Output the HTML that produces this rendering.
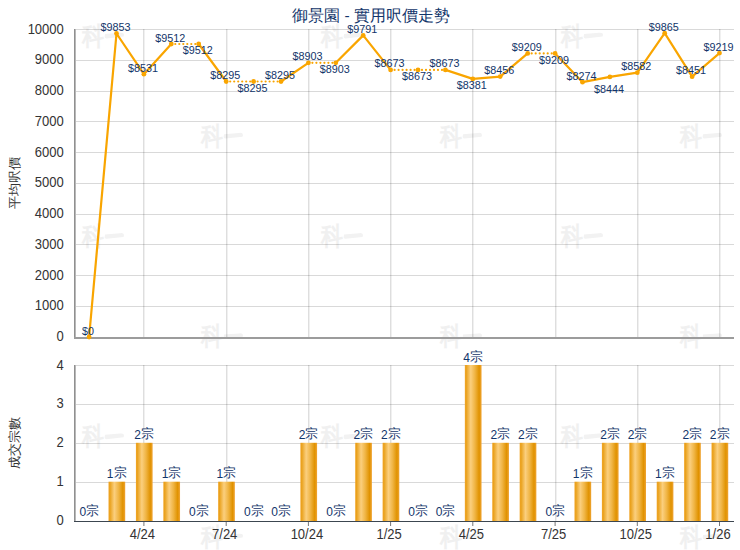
<!DOCTYPE html><html><head><meta charset="utf-8"><style>html,body{margin:0;padding:0;background:#fff;width:740px;height:550px;overflow:hidden}svg{display:block}text{font-family:"Liberation Sans",sans-serif}</style></head><body>
<svg width="740" height="550" viewBox="0 0 740 550">
<defs><linearGradient id="bg" x1="0" x2="1" y1="0" y2="0"><stop offset="0" stop-color="#f2a62a"/><stop offset="0.08" stop-color="#e9a11c"/><stop offset="0.35" stop-color="#fbcf7e"/><stop offset="0.6" stop-color="#f0b545"/><stop offset="0.86" stop-color="#e09200"/><stop offset="1" stop-color="#f0a535"/></linearGradient></defs>
<text x="371" y="21" text-anchor="middle" font-size="15.5" fill="#12356a">御景園 - 實用呎價走勢</text>
<g transform="translate(80,23.0)"><text transform="translate(2,21.6) scale(0.93,1.1)" font-size="23.5" font-weight="900" fill="#f0f0f0">科</text><path d="M25 11 L40 9.8 Q42 9.3 43.5 10.3 Q44.5 12 43.5 13.5 L26.5 15.4 Q25 15.3 24.6 14 Z" fill="#f2f2f2"/></g><g transform="translate(319,23.0)"><text transform="translate(2,21.6) scale(0.93,1.1)" font-size="23.5" font-weight="900" fill="#f0f0f0">科</text><path d="M25 11 L40 9.8 Q42 9.3 43.5 10.3 Q44.5 12 43.5 13.5 L26.5 15.4 Q25 15.3 24.6 14 Z" fill="#f2f2f2"/></g><g transform="translate(559,23.0)"><text transform="translate(2,21.6) scale(0.93,1.1)" font-size="23.5" font-weight="900" fill="#f0f0f0">科</text><path d="M25 11 L40 9.8 Q42 9.3 43.5 10.3 Q44.5 12 43.5 13.5 L26.5 15.4 Q25 15.3 24.6 14 Z" fill="#f2f2f2"/></g><g transform="translate(199,123.2)"><text transform="translate(2,21.6) scale(0.93,1.1)" font-size="23.5" font-weight="900" fill="#f0f0f0">科</text><path d="M25 11 L40 9.8 Q42 9.3 43.5 10.3 Q44.5 12 43.5 13.5 L26.5 15.4 Q25 15.3 24.6 14 Z" fill="#f2f2f2"/></g><g transform="translate(438,123.2)"><text transform="translate(2,21.6) scale(0.93,1.1)" font-size="23.5" font-weight="900" fill="#f0f0f0">科</text><path d="M25 11 L40 9.8 Q42 9.3 43.5 10.3 Q44.5 12 43.5 13.5 L26.5 15.4 Q25 15.3 24.6 14 Z" fill="#f2f2f2"/></g><g transform="translate(678,123.2)"><text transform="translate(2,21.6) scale(0.93,1.1)" font-size="23.5" font-weight="900" fill="#f0f0f0">科</text><path d="M25 11 L40 9.8 Q42 9.3 43.5 10.3 Q44.5 12 43.5 13.5 L26.5 15.4 Q25 15.3 24.6 14 Z" fill="#f2f2f2"/></g><g transform="translate(80,223.4)"><text transform="translate(2,21.6) scale(0.93,1.1)" font-size="23.5" font-weight="900" fill="#f0f0f0">科</text><path d="M25 11 L40 9.8 Q42 9.3 43.5 10.3 Q44.5 12 43.5 13.5 L26.5 15.4 Q25 15.3 24.6 14 Z" fill="#f2f2f2"/></g><g transform="translate(319,223.4)"><text transform="translate(2,21.6) scale(0.93,1.1)" font-size="23.5" font-weight="900" fill="#f0f0f0">科</text><path d="M25 11 L40 9.8 Q42 9.3 43.5 10.3 Q44.5 12 43.5 13.5 L26.5 15.4 Q25 15.3 24.6 14 Z" fill="#f2f2f2"/></g><g transform="translate(559,223.4)"><text transform="translate(2,21.6) scale(0.93,1.1)" font-size="23.5" font-weight="900" fill="#f0f0f0">科</text><path d="M25 11 L40 9.8 Q42 9.3 43.5 10.3 Q44.5 12 43.5 13.5 L26.5 15.4 Q25 15.3 24.6 14 Z" fill="#f2f2f2"/></g><g transform="translate(199,323.6)"><text transform="translate(2,21.6) scale(0.93,1.1)" font-size="23.5" font-weight="900" fill="#f0f0f0">科</text><path d="M25 11 L40 9.8 Q42 9.3 43.5 10.3 Q44.5 12 43.5 13.5 L26.5 15.4 Q25 15.3 24.6 14 Z" fill="#f2f2f2"/></g><g transform="translate(438,323.6)"><text transform="translate(2,21.6) scale(0.93,1.1)" font-size="23.5" font-weight="900" fill="#f0f0f0">科</text><path d="M25 11 L40 9.8 Q42 9.3 43.5 10.3 Q44.5 12 43.5 13.5 L26.5 15.4 Q25 15.3 24.6 14 Z" fill="#f2f2f2"/></g><g transform="translate(678,323.6)"><text transform="translate(2,21.6) scale(0.93,1.1)" font-size="23.5" font-weight="900" fill="#f0f0f0">科</text><path d="M25 11 L40 9.8 Q42 9.3 43.5 10.3 Q44.5 12 43.5 13.5 L26.5 15.4 Q25 15.3 24.6 14 Z" fill="#f2f2f2"/></g><g transform="translate(80,423.8)"><text transform="translate(2,21.6) scale(0.93,1.1)" font-size="23.5" font-weight="900" fill="#f0f0f0">科</text><path d="M25 11 L40 9.8 Q42 9.3 43.5 10.3 Q44.5 12 43.5 13.5 L26.5 15.4 Q25 15.3 24.6 14 Z" fill="#f2f2f2"/></g><g transform="translate(319,423.8)"><text transform="translate(2,21.6) scale(0.93,1.1)" font-size="23.5" font-weight="900" fill="#f0f0f0">科</text><path d="M25 11 L40 9.8 Q42 9.3 43.5 10.3 Q44.5 12 43.5 13.5 L26.5 15.4 Q25 15.3 24.6 14 Z" fill="#f2f2f2"/></g><g transform="translate(559,423.8)"><text transform="translate(2,21.6) scale(0.93,1.1)" font-size="23.5" font-weight="900" fill="#f0f0f0">科</text><path d="M25 11 L40 9.8 Q42 9.3 43.5 10.3 Q44.5 12 43.5 13.5 L26.5 15.4 Q25 15.3 24.6 14 Z" fill="#f2f2f2"/></g><g transform="translate(199,524.0)"><text transform="translate(2,21.6) scale(0.93,1.1)" font-size="23.5" font-weight="900" fill="#f0f0f0">科</text><path d="M25 11 L40 9.8 Q42 9.3 43.5 10.3 Q44.5 12 43.5 13.5 L26.5 15.4 Q25 15.3 24.6 14 Z" fill="#f2f2f2"/></g><g transform="translate(438,524.0)"><text transform="translate(2,21.6) scale(0.93,1.1)" font-size="23.5" font-weight="900" fill="#f0f0f0">科</text><path d="M25 11 L40 9.8 Q42 9.3 43.5 10.3 Q44.5 12 43.5 13.5 L26.5 15.4 Q25 15.3 24.6 14 Z" fill="#f2f2f2"/></g><g transform="translate(678,524.0)"><text transform="translate(2,21.6) scale(0.93,1.1)" font-size="23.5" font-weight="900" fill="#f0f0f0">科</text><path d="M25 11 L40 9.8 Q42 9.3 43.5 10.3 Q44.5 12 43.5 13.5 L26.5 15.4 Q25 15.3 24.6 14 Z" fill="#f2f2f2"/></g>
<rect x="76" y="29" width="658.0" height="1" fill="#000" fill-opacity="0.15"/><rect x="76" y="60" width="658.0" height="1" fill="#000" fill-opacity="0.15"/><rect x="76" y="91" width="658.0" height="1" fill="#000" fill-opacity="0.15"/><rect x="76" y="121" width="658.0" height="1" fill="#000" fill-opacity="0.15"/><rect x="76" y="152" width="658.0" height="1" fill="#000" fill-opacity="0.15"/><rect x="76" y="183" width="658.0" height="1" fill="#000" fill-opacity="0.15"/><rect x="76" y="214" width="658.0" height="1" fill="#000" fill-opacity="0.15"/><rect x="76" y="244" width="658.0" height="1" fill="#000" fill-opacity="0.15"/><rect x="76" y="275" width="658.0" height="1" fill="#000" fill-opacity="0.15"/><rect x="76" y="306" width="658.0" height="1" fill="#000" fill-opacity="0.15"/><rect x="76" y="365" width="658.0" height="1" fill="#000" fill-opacity="0.15"/><rect x="76" y="404" width="658.0" height="1" fill="#000" fill-opacity="0.15"/><rect x="76" y="443" width="658.0" height="1" fill="#000" fill-opacity="0.15"/><rect x="76" y="482" width="658.0" height="1" fill="#000" fill-opacity="0.15"/><rect x="143" y="29" width="1" height="308" fill="#000" fill-opacity="0.13"/><rect x="144" y="29" width="1" height="308" fill="#000" fill-opacity="0.06"/><rect x="143" y="365" width="1" height="156" fill="#000" fill-opacity="0.13"/><rect x="144" y="365" width="1" height="156" fill="#000" fill-opacity="0.06"/><rect x="226" y="29" width="1" height="308" fill="#000" fill-opacity="0.13"/><rect x="227" y="29" width="1" height="308" fill="#000" fill-opacity="0.06"/><rect x="226" y="365" width="1" height="156" fill="#000" fill-opacity="0.13"/><rect x="227" y="365" width="1" height="156" fill="#000" fill-opacity="0.06"/><rect x="308" y="29" width="1" height="308" fill="#000" fill-opacity="0.13"/><rect x="309" y="29" width="1" height="308" fill="#000" fill-opacity="0.06"/><rect x="308" y="365" width="1" height="156" fill="#000" fill-opacity="0.13"/><rect x="309" y="365" width="1" height="156" fill="#000" fill-opacity="0.06"/><rect x="390" y="29" width="1" height="308" fill="#000" fill-opacity="0.13"/><rect x="391" y="29" width="1" height="308" fill="#000" fill-opacity="0.06"/><rect x="390" y="365" width="1" height="156" fill="#000" fill-opacity="0.13"/><rect x="391" y="365" width="1" height="156" fill="#000" fill-opacity="0.06"/><rect x="472" y="29" width="1" height="308" fill="#000" fill-opacity="0.13"/><rect x="473" y="29" width="1" height="308" fill="#000" fill-opacity="0.06"/><rect x="472" y="365" width="1" height="156" fill="#000" fill-opacity="0.13"/><rect x="473" y="365" width="1" height="156" fill="#000" fill-opacity="0.06"/><rect x="555" y="29" width="1" height="308" fill="#000" fill-opacity="0.13"/><rect x="556" y="29" width="1" height="308" fill="#000" fill-opacity="0.06"/><rect x="555" y="365" width="1" height="156" fill="#000" fill-opacity="0.13"/><rect x="556" y="365" width="1" height="156" fill="#000" fill-opacity="0.06"/><rect x="637" y="29" width="1" height="308" fill="#000" fill-opacity="0.13"/><rect x="638" y="29" width="1" height="308" fill="#000" fill-opacity="0.06"/><rect x="637" y="365" width="1" height="156" fill="#000" fill-opacity="0.13"/><rect x="638" y="365" width="1" height="156" fill="#000" fill-opacity="0.06"/><rect x="719" y="29" width="1" height="308" fill="#000" fill-opacity="0.13"/><rect x="720" y="29" width="1" height="308" fill="#000" fill-opacity="0.06"/><rect x="719" y="365" width="1" height="156" fill="#000" fill-opacity="0.13"/><rect x="720" y="365" width="1" height="156" fill="#000" fill-opacity="0.06"/>
<rect x="74" y="29.0" width="1" height="310.0" fill="#909090"/><rect x="75" y="29.0" width="1" height="308.0" fill="#b8b8b8"/><rect x="74" y="337.0" width="660.0" height="2" fill="#9c9c9c"/>
<rect x="74" y="365.0" width="1" height="157.0" fill="#909090"/><rect x="75" y="365.0" width="1" height="156.0" fill="#b8b8b8"/>
<rect x="74" y="521" width="660.0" height="1" fill="#3c4650"/>
<path d="M143.9 522V526 M226.2 522V526 M308.4 522V526 M390.6 522V526 M472.8 522V526 M555.1 522V526 M637.3 522V526 M719.5 522V526" stroke="#777" stroke-width="1" fill="none"/>
<text transform="translate(63.8,34.0) scale(0.93,1)" text-anchor="end" font-size="14" fill="#333">10000</text>
<text transform="translate(63.8,64.2) scale(0.93,1)" text-anchor="end" font-size="14" fill="#333">9000</text>
<text transform="translate(63.8,95.0) scale(0.93,1)" text-anchor="end" font-size="14" fill="#333">8000</text>
<text transform="translate(63.8,125.7) scale(0.93,1)" text-anchor="end" font-size="14" fill="#333">7000</text>
<text transform="translate(63.8,156.5) scale(0.93,1)" text-anchor="end" font-size="14" fill="#333">6000</text>
<text transform="translate(63.8,187.3) scale(0.93,1)" text-anchor="end" font-size="14" fill="#333">5000</text>
<text transform="translate(63.8,218.1) scale(0.93,1)" text-anchor="end" font-size="14" fill="#333">4000</text>
<text transform="translate(63.8,248.9) scale(0.93,1)" text-anchor="end" font-size="14" fill="#333">3000</text>
<text transform="translate(63.8,279.6) scale(0.93,1)" text-anchor="end" font-size="14" fill="#333">2000</text>
<text transform="translate(63.8,310.4) scale(0.93,1)" text-anchor="end" font-size="14" fill="#333">1000</text>
<text transform="translate(63.8,341.2) scale(0.93,1)" text-anchor="end" font-size="14" fill="#333">0</text>
<text transform="translate(63.8,369.5) scale(0.93,1)" text-anchor="end" font-size="14" fill="#333">4</text>
<text transform="translate(63.8,408.4) scale(0.93,1)" text-anchor="end" font-size="14" fill="#333">3</text>
<text transform="translate(63.8,447.3) scale(0.93,1)" text-anchor="end" font-size="14" fill="#333">2</text>
<text transform="translate(63.8,486.2) scale(0.93,1)" text-anchor="end" font-size="14" fill="#333">1</text>
<text transform="translate(63.8,525.1) scale(0.93,1)" text-anchor="end" font-size="14" fill="#333">0</text>
<text transform="translate(19,183) rotate(-90)" text-anchor="middle" font-size="12.5" fill="#333">平均呎價</text>
<text transform="translate(19,443) rotate(-90)" text-anchor="middle" font-size="12.5" fill="#333">成交宗數</text>
<text transform="translate(142.4,538.6) scale(0.93,1)" text-anchor="middle" font-size="14" fill="#333">4/24</text>
<text transform="translate(224.7,538.6) scale(0.93,1)" text-anchor="middle" font-size="14" fill="#333">7/24</text>
<text transform="translate(306.9,538.6) scale(0.93,1)" text-anchor="middle" font-size="14" fill="#333">10/24</text>
<text transform="translate(389.1,538.6) scale(0.93,1)" text-anchor="middle" font-size="14" fill="#333">1/25</text>
<text transform="translate(471.3,538.6) scale(0.93,1)" text-anchor="middle" font-size="14" fill="#333">4/25</text>
<text transform="translate(553.6,538.6) scale(0.93,1)" text-anchor="middle" font-size="14" fill="#333">7/25</text>
<text transform="translate(635.8,538.6) scale(0.93,1)" text-anchor="middle" font-size="14" fill="#333">10/25</text>
<text transform="translate(718.0,538.6) scale(0.93,1)" text-anchor="middle" font-size="14" fill="#333">1/26</text>
<rect x="108.51" y="481.7" width="16.7" height="39.3" fill="url(#bg)"/>
<rect x="135.92" y="442.8" width="16.7" height="78.2" fill="url(#bg)"/>
<rect x="163.33" y="481.7" width="16.7" height="39.3" fill="url(#bg)"/>
<rect x="218.15" y="481.7" width="16.7" height="39.3" fill="url(#bg)"/>
<rect x="300.38" y="442.8" width="16.7" height="78.2" fill="url(#bg)"/>
<rect x="355.20" y="442.8" width="16.7" height="78.2" fill="url(#bg)"/>
<rect x="382.61" y="442.8" width="16.7" height="78.2" fill="url(#bg)"/>
<rect x="464.84" y="365.0" width="16.7" height="156.0" fill="url(#bg)"/>
<rect x="492.25" y="442.8" width="16.7" height="78.2" fill="url(#bg)"/>
<rect x="519.66" y="442.8" width="16.7" height="78.2" fill="url(#bg)"/>
<rect x="574.48" y="481.7" width="16.7" height="39.3" fill="url(#bg)"/>
<rect x="601.89" y="442.8" width="16.7" height="78.2" fill="url(#bg)"/>
<rect x="629.30" y="442.8" width="16.7" height="78.2" fill="url(#bg)"/>
<rect x="656.71" y="481.7" width="16.7" height="39.3" fill="url(#bg)"/>
<rect x="684.12" y="442.8" width="16.7" height="78.2" fill="url(#bg)"/>
<rect x="711.53" y="442.8" width="16.7" height="78.2" fill="url(#bg)"/>
<text x="89.3" y="516.0" text-anchor="middle" font-size="12" fill="#12356a">0<tspan font-size="13" dy="-1">宗</tspan></text>
<text x="116.7" y="478.2" text-anchor="middle" font-size="12" fill="#12356a">1<tspan font-size="13" dy="-1">宗</tspan></text>
<text x="144.1" y="439.3" text-anchor="middle" font-size="12" fill="#12356a">2<tspan font-size="13" dy="-1">宗</tspan></text>
<text x="171.5" y="478.2" text-anchor="middle" font-size="12" fill="#12356a">1<tspan font-size="13" dy="-1">宗</tspan></text>
<text x="198.9" y="516.0" text-anchor="middle" font-size="12" fill="#12356a">0<tspan font-size="13" dy="-1">宗</tspan></text>
<text x="226.3" y="478.2" text-anchor="middle" font-size="12" fill="#12356a">1<tspan font-size="13" dy="-1">宗</tspan></text>
<text x="253.8" y="516.0" text-anchor="middle" font-size="12" fill="#12356a">0<tspan font-size="13" dy="-1">宗</tspan></text>
<text x="281.2" y="516.0" text-anchor="middle" font-size="12" fill="#12356a">0<tspan font-size="13" dy="-1">宗</tspan></text>
<text x="308.6" y="439.3" text-anchor="middle" font-size="12" fill="#12356a">2<tspan font-size="13" dy="-1">宗</tspan></text>
<text x="336.0" y="516.0" text-anchor="middle" font-size="12" fill="#12356a">0<tspan font-size="13" dy="-1">宗</tspan></text>
<text x="363.4" y="439.3" text-anchor="middle" font-size="12" fill="#12356a">2<tspan font-size="13" dy="-1">宗</tspan></text>
<text x="390.8" y="439.3" text-anchor="middle" font-size="12" fill="#12356a">2<tspan font-size="13" dy="-1">宗</tspan></text>
<text x="418.2" y="516.0" text-anchor="middle" font-size="12" fill="#12356a">0<tspan font-size="13" dy="-1">宗</tspan></text>
<text x="445.6" y="516.0" text-anchor="middle" font-size="12" fill="#12356a">0<tspan font-size="13" dy="-1">宗</tspan></text>
<text x="473.0" y="361.5" text-anchor="middle" font-size="12" fill="#12356a">4<tspan font-size="13" dy="-1">宗</tspan></text>
<text x="500.4" y="439.3" text-anchor="middle" font-size="12" fill="#12356a">2<tspan font-size="13" dy="-1">宗</tspan></text>
<text x="527.9" y="439.3" text-anchor="middle" font-size="12" fill="#12356a">2<tspan font-size="13" dy="-1">宗</tspan></text>
<text x="555.3" y="516.0" text-anchor="middle" font-size="12" fill="#12356a">0<tspan font-size="13" dy="-1">宗</tspan></text>
<text x="582.7" y="478.2" text-anchor="middle" font-size="12" fill="#12356a">1<tspan font-size="13" dy="-1">宗</tspan></text>
<text x="610.1" y="439.3" text-anchor="middle" font-size="12" fill="#12356a">2<tspan font-size="13" dy="-1">宗</tspan></text>
<text x="637.5" y="439.3" text-anchor="middle" font-size="12" fill="#12356a">2<tspan font-size="13" dy="-1">宗</tspan></text>
<text x="664.9" y="478.2" text-anchor="middle" font-size="12" fill="#12356a">1<tspan font-size="13" dy="-1">宗</tspan></text>
<text x="692.3" y="439.3" text-anchor="middle" font-size="12" fill="#12356a">2<tspan font-size="13" dy="-1">宗</tspan></text>
<text x="719.7" y="439.3" text-anchor="middle" font-size="12" fill="#12356a">2<tspan font-size="13" dy="-1">宗</tspan></text>
<path d="M89.1 337.0L116.5 33.5M116.5 33.5L143.9 74.2M143.9 74.2L171.3 44.0M198.7 44.0L226.2 81.5M281.0 81.5L308.4 62.8M335.8 62.8L363.2 35.4M363.2 35.4L390.6 69.9M445.4 69.9L472.8 78.9M472.8 78.9L500.2 76.6M500.2 76.6L527.7 53.4M555.1 53.4L582.5 82.2M582.5 82.2L609.9 76.9M609.9 76.9L637.3 72.7M637.3 72.7L664.7 33.2M664.7 33.2L692.1 76.7M692.1 76.7L719.5 53.1" stroke="#f9a500" stroke-width="2.2" fill="none" stroke-linejoin="round" stroke-linecap="round"/>
<path d="M171.3 44.0L198.7 44.0M226.2 81.5L253.6 81.5M253.6 81.5L281.0 81.5M308.4 62.8L335.8 62.8M390.6 69.9L418.0 69.9M418.0 69.9L445.4 69.9M527.7 53.4L555.1 53.4" stroke="#f9a500" stroke-width="2.2" fill="none" stroke-dasharray="0 4" stroke-linecap="round"/>
<circle cx="89.1" cy="337.0" r="2.4" fill="#f9a500"/>
<circle cx="116.5" cy="33.5" r="2.4" fill="#f9a500"/>
<circle cx="143.9" cy="74.2" r="2.4" fill="#f9a500"/>
<circle cx="171.3" cy="44.0" r="2.4" fill="#f9a500"/>
<circle cx="198.7" cy="44.0" r="2.4" fill="#f9a500"/>
<circle cx="226.2" cy="81.5" r="2.4" fill="#f9a500"/>
<circle cx="253.6" cy="81.5" r="2.4" fill="#f9a500"/>
<circle cx="281.0" cy="81.5" r="2.4" fill="#f9a500"/>
<circle cx="308.4" cy="62.8" r="2.4" fill="#f9a500"/>
<circle cx="335.8" cy="62.8" r="2.4" fill="#f9a500"/>
<circle cx="363.2" cy="35.4" r="2.4" fill="#f9a500"/>
<circle cx="390.6" cy="69.9" r="2.4" fill="#f9a500"/>
<circle cx="418.0" cy="69.9" r="2.4" fill="#f9a500"/>
<circle cx="445.4" cy="69.9" r="2.4" fill="#f9a500"/>
<circle cx="472.8" cy="78.9" r="2.4" fill="#f9a500"/>
<circle cx="500.2" cy="76.6" r="2.4" fill="#f9a500"/>
<circle cx="527.7" cy="53.4" r="2.4" fill="#f9a500"/>
<circle cx="555.1" cy="53.4" r="2.4" fill="#f9a500"/>
<circle cx="582.5" cy="82.2" r="2.4" fill="#f9a500"/>
<circle cx="609.9" cy="76.9" r="2.4" fill="#f9a500"/>
<circle cx="637.3" cy="72.7" r="2.4" fill="#f9a500"/>
<circle cx="664.7" cy="33.2" r="2.4" fill="#f9a500"/>
<circle cx="692.1" cy="76.7" r="2.4" fill="#f9a500"/>
<circle cx="719.5" cy="53.1" r="2.4" fill="#f9a500"/>
<text x="88.1" y="334.5" text-anchor="middle" font-size="10.8" fill="#12356a">$0</text>
<text x="115.5" y="31.0" text-anchor="middle" font-size="10.8" fill="#12356a">$9853</text>
<text x="142.9" y="71.7" text-anchor="middle" font-size="10.8" fill="#12356a">$8531</text>
<text x="170.3" y="41.5" text-anchor="middle" font-size="10.8" fill="#12356a">$9512</text>
<text x="197.7" y="54.3" text-anchor="middle" font-size="10.8" fill="#12356a">$9512</text>
<text x="225.2" y="79.0" text-anchor="middle" font-size="10.8" fill="#12356a">$8295</text>
<text x="252.6" y="91.8" text-anchor="middle" font-size="10.8" fill="#12356a">$8295</text>
<text x="280.0" y="79.0" text-anchor="middle" font-size="10.8" fill="#12356a">$8295</text>
<text x="307.4" y="60.3" text-anchor="middle" font-size="10.8" fill="#12356a">$8903</text>
<text x="334.8" y="73.1" text-anchor="middle" font-size="10.8" fill="#12356a">$8903</text>
<text x="362.2" y="32.9" text-anchor="middle" font-size="10.8" fill="#12356a">$9791</text>
<text x="389.6" y="67.4" text-anchor="middle" font-size="10.8" fill="#12356a">$8673</text>
<text x="417.0" y="80.2" text-anchor="middle" font-size="10.8" fill="#12356a">$8673</text>
<text x="444.4" y="67.4" text-anchor="middle" font-size="10.8" fill="#12356a">$8673</text>
<text x="471.8" y="89.2" text-anchor="middle" font-size="10.8" fill="#12356a">$8381</text>
<text x="499.2" y="74.1" text-anchor="middle" font-size="10.8" fill="#12356a">$8456</text>
<text x="526.7" y="50.9" text-anchor="middle" font-size="10.8" fill="#12356a">$9209</text>
<text x="554.1" y="63.7" text-anchor="middle" font-size="10.8" fill="#12356a">$9209</text>
<text x="581.5" y="79.7" text-anchor="middle" font-size="10.8" fill="#12356a">$8274</text>
<text x="608.9" y="93.0" text-anchor="middle" font-size="10.8" fill="#12356a">$8444</text>
<text x="636.3" y="70.2" text-anchor="middle" font-size="10.8" fill="#12356a">$8582</text>
<text x="663.7" y="30.7" text-anchor="middle" font-size="10.8" fill="#12356a">$9865</text>
<text x="691.1" y="74.2" text-anchor="middle" font-size="10.8" fill="#12356a">$8451</text>
<text x="718.5" y="50.6" text-anchor="middle" font-size="10.8" fill="#12356a">$9219</text>
</svg></body></html>
